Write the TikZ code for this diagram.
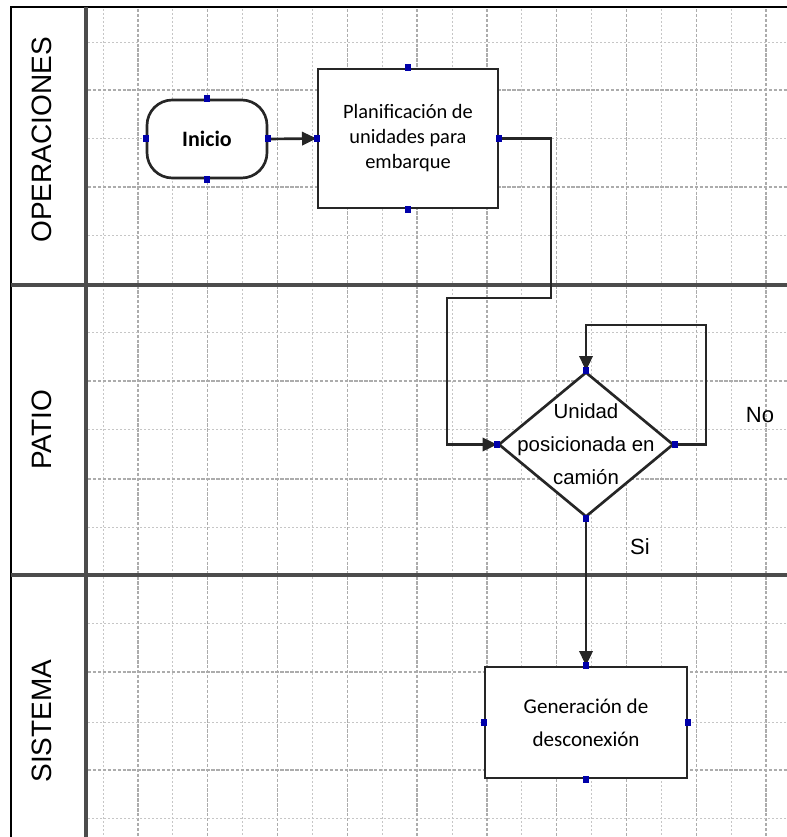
\documentclass[tikz,border=0pt]{standalone}
\usepackage{fontspec}
\setmainfont{Carlito}
\newfontfamily\arialfont{Liberation Sans}
\usetikzlibrary{arrows.meta,shapes.geometric,calc}
\definecolor{portblue}{RGB}{0,0,170}

\begin{document}
\begin{tikzpicture}[x=0.75pt,y=-0.75pt,
    lane/.style={line width=2.8pt, black!70},
    frame/.style={line width=2pt, black},
    minorgrid/.style={gray!45, line width=0.7pt, dash pattern=on 1.5pt off 1.5pt},
    majorgrid/.style={gray!65, line width=1pt, dash pattern=on 2.5pt off 1.2pt},
    box/.style={draw, line width=2pt, black!85, fill=white, text=black, align=center, inner sep=0pt},
    flow/.style={line width=2pt, black!85},
    tip/.style={-{Triangle[length=11pt,width=10pt]}},
    port/.style={fill=portblue},
    lanelabel/.style={font=\arialfont\fontsize{21}{24}\selectfont, rotate=90},
    note/.style={font=\arialfont\fontsize{16.5}{18}\selectfont}]

    \useasboundingbox (0,0) rectangle (787,837);

    \foreach \k in {0,2,...,18}
    \draw[minorgrid] ({103+34.9*\k},9) -- ({103+34.9*\k},837);
    \foreach \k in {1,3,...,19}
    \draw[majorgrid] ({103+34.9*\k},9) -- ({103+34.9*\k},837);
    \foreach \y in {42,138,235,332,429,527,623,722,818}
    \draw[minorgrid] (88,\y) -- (787,\y);
    \foreach \y in {90,187,381,479,672,770}
    \draw[majorgrid] (88,\y) -- (787,\y);

    \draw[frame] (11,837) -- (11,7) -- (787,7);
    \draw[lane] (86,7) -- (86,837);
    \draw[lane] (11,285) -- (787,285);
    \draw[lane] (11,575) -- (787,575);

    \node[lanelabel] (opLbl) at (42,140) {OPERACIONES};
    \node[lanelabel] (patLbl) at (42,430) {PATIO};
    \node[lanelabel] (sisLbl) at (42,721) {SISTEMA};

    \node[box, rounded corners=19pt, minimum width=90pt, minimum height=58.5pt,
        font=\bfseries\fontsize{16.5}{18}\selectfont] (ini) at (207,139) {Inicio};
    \node[box, minimum width=135pt, minimum height=104.25pt,
        font=\fontsize{15.3}{18.75}\selectfont] (plan) at (408,138.5)
        {Planificación de\\unidades para\\embarque};
    \node[box, shape=diamond, minimum width=131.25pt, minimum height=108.75pt] (dec) at (586,444.5) {};
    \node[align=center, font=\arialfont\fontsize{15.3}{24.75}\selectfont] (decTxt) at (dec.center)
        {Unidad\\posicionada en\\camión};
    \node[box, minimum width=151.5pt, minimum height=83.25pt,
        font=\fontsize{15.8}{24.75}\selectfont] (gen) at (586,722.5)
        {Generación de\\desconexión};

    \coordinate (c1) at (551,298);
    \coordinate (c2) at (447,298);
    \coordinate (l1) at (706,325);

    \draw[flow, tip] (ini.east) -- (plan.west);
    \draw[flow, tip] (plan.east) -| (c1) -- (c2) |- (dec.west);
    \draw[flow, tip] (dec.east) -| (l1) -| (dec.north);
    \draw[flow, tip] (dec.south) -- (gen.north);

    \node[note] (noLbl) at (760,415) {No};
    \node[note] (siLbl) at (640,547) {Si};

    \foreach \n in {ini,plan,dec,gen}
    \foreach \a in {north,south,east,west}
    \fill[port] ($(\n.\a)+(-3,-3.5)$) rectangle +(6,7);

\end{tikzpicture}
\end{document}
